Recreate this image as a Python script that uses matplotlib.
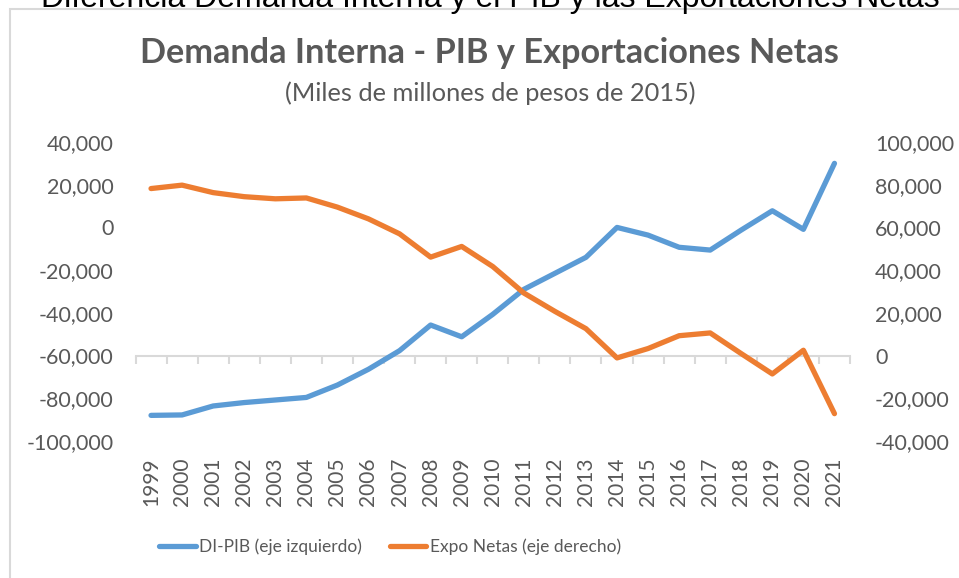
import numpy as np
import matplotlib.pyplot as plt
from matplotlib.patches import Rectangle
from matplotlib.lines import Line2D
from matplotlib.ticker import FuncFormatter

plt.rcParams['font.family'] = ['Lato', 'DejaVu Sans']

# Datos (miles de millones de pesos de 2015)
years = [str(y) for y in range(1999, 2022)]
di_pib = [-88000, -87800, -83600, -82000, -80800, -79600, -73800, -66400, -57700,
          -45700, -51200, -40700, -29000, -21500, -14000, 0, -3600, -9300, -10600,
          -1200, 7800, -900, 30000]
expo_netas = [78200, 79800, 76300, 74400, 73400, 73800, 69500, 64000, 57000,
              46100, 51100, 41700, 29300, 20700, 12600, -1100, 3300, 9300, 10600,
              900, -8600, 2500, -27200]

blue = '#5B9BD5'
orange = '#ED7D31'
gray = '#595959'
light = '#D9D9D9'

fig = plt.figure(figsize=(9.59, 5.78), dpi=100)

# marco del grafico (solo se ven arriba e izquierda)
fig.add_artist(Rectangle((10 / 959, -0.1), 2, 1 - 9 / 578 + 0.1, transform=fig.transFigure,
                         fill=False, edgecolor=light, lw=1.5))

fig.text(490 / 959, 1 - 7 / 578, 'Diferencia Demanda Interna y el PIB y las Exportaciones Netas',
         ha='center', va='baseline', fontsize=23, color='black', family=['Liberation Sans'])
fig.text(489 / 959, 1 - 63 / 578, 'Demanda Interna - PIB y Exportaciones Netas',
         ha='center', va='baseline', fontsize=24.7, fontweight='bold', color=gray)
fig.text(490 / 959, 1 - 101 / 578, '(Miles de millones de pesos de 2015)',
         ha='center', va='baseline', fontsize=18.3, color=gray)

ax = fig.add_axes([135.5 / 959, 1 - 441 / 578, (850 - 135.5) / 959, 299 / 578])
ax2 = ax.twinx()

x = np.arange(len(years))
ax.plot(x, di_pib, color=blue, lw=3.8, solid_capstyle='round', solid_joinstyle='round', zorder=3)
ax2.plot(x, expo_netas, color=orange, lw=3.8, solid_capstyle='round', solid_joinstyle='round', zorder=3)

ax.set_xlim(-0.5, len(years) - 0.5)
ax.set_ylim(-100000, 40000)
ax2.set_ylim(-40000, 100000)
ax.set_yticks(np.arange(-100000, 40001, 20000))
ax2.set_yticks(np.arange(-40000, 100001, 20000))

fmt = FuncFormatter(lambda v, p: '{:,.0f}'.format(v))
ax.yaxis.set_major_formatter(fmt)
ax2.yaxis.set_major_formatter(fmt)

for a in (ax, ax2):
    for s in a.spines.values():
        s.set_visible(False)
ax.tick_params(axis='y', length=0, pad=16, labelsize=15.5, labelcolor=gray)
ax2.tick_params(axis='y', length=0, pad=18, labelsize=15.5, labelcolor=gray)

# eje de categorias cruzando en -60,000
ax.spines['bottom'].set_visible(True)
ax.spines['bottom'].set_position(('data', -60000))
ax.spines['bottom'].set_color(light)
ax.spines['bottom'].set_linewidth(1.5)
ax.set_xticks(np.arange(-0.5, len(years), 1))
ax.tick_params(axis='x', direction='out', length=6, width=1.5, color=light, labelbottom=False)

sec = ax.secondary_xaxis('bottom')
sec.set_xticks(x, labels=years)
sec.tick_params(axis='x', length=0, pad=12, labelsize=15, labelcolor=gray, rotation=90)
sec.spines['bottom'].set_visible(False)

handles = [Line2D([], [], color=blue, lw=3.8, solid_capstyle='round'),
           Line2D([], [], color=orange, lw=3.8, solid_capstyle='round')]
leg = fig.legend(handles, ['DI-PIB (eje izquierdo)', 'Expo Netas (eje derecho)'],
                 loc='center', bbox_to_anchor=(390 / 959, 1 - 547 / 578), ncol=2,
                 frameon=False, fontsize=12.5, handlelength=2.1, handletextpad=0.2,
                 columnspacing=1.6)
for t in leg.get_texts():
    t.set_color(gray)

fig.savefig('out.png', dpi=100)
